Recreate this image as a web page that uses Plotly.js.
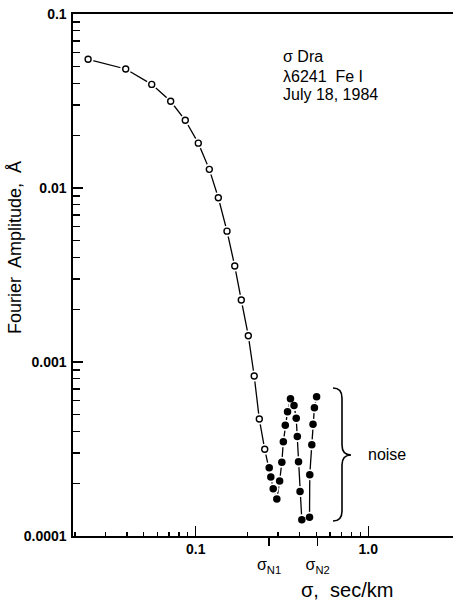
<!DOCTYPE html>
<html>
<head>
<meta charset="utf-8">
<script src="https://cdn.plot.ly/plotly-3.0.1.min.js"></script>
<style>
html,body{margin:0;padding:0;background:#fff;}
#chart{width:453px;height:603px;}
</style>
</head>
<body>
<div id="chart"></div>
<script>
// Spatial frequency sigma (sec/km) and Fourier amplitude (Å)
const openSigma = [0.0238, 0.0393, 0.0556, 0.0716, 0.0870, 0.1035, 0.1199, 0.1352, 0.1518, 0.1683, 0.1837, 0.2017, 0.2182, 0.2336, 0.2511];
const openAmp   = [0.0549, 0.0483, 0.0394, 0.0315, 0.0245, 0.0181, 0.0128, 0.00879, 0.00565, 0.00356, 0.00227, 0.001416, 0.000831, 0.000470, 0.000315];
const noiseSigma = [0.2666, 0.2723, 0.2812, 0.2951, 0.3064, 0.3155, 0.3219, 0.3304, 0.3404, 0.3541, 0.3712, 0.3823, 0.3879, 0.3942, 0.4022, 0.4119, 0.4564, 0.4580, 0.4706, 0.4782, 0.4872, 0.5017];
const noiseAmp   = [0.000247, 0.000218, 0.000187, 0.000163, 0.000207, 0.000265, 0.000348, 0.000433, 0.000518, 0.000615, 0.000562, 0.000475, 0.000373, 0.000267, 0.000180, 0.000124, 0.000128, 0.000225, 0.000335, 0.000439, 0.000546, 0.000632];

const xMajorVals = [0.1, 1.0];
const xMajorText = ['0.1', '1.0'];
const yMajorVals = [0.1, 0.01, 0.001, 0.0001];
const yMajorText = ['0.1', '0.01', '0.001', '0.0001'];
const noiseLimitVals = [0.266, 0.509];
const noiseLimitText = ['σ<sub>N1</sub>', 'σ<sub>N2</sub>'];

const infoLines = ['σ Dra', 'λ6241  Fe I', 'July 18, 1984'];
const xTitle = 'σ,  sec/km';
const yTitle = 'Fourier  Amplitude,  Å';
const noiseLabel = 'noise';

// minor ticks 2..9 per decade
function minors(fromExp, toExp, maxVal) {
  const out = [];
  for (let e = fromExp; e < toExp; e++) {
    for (let m = 2; m <= 9; m++) {
      const v = m * Math.pow(10, e);
      if (v <= maxVal) out.push(v);
    }
  }
  return out;
}
const xMinor = minors(-2, 0, 0.95);
const yMinor = minors(-4, -1, 0.095);

const allX = openSigma.concat(noiseSigma);
const allY = openAmp.concat(noiseAmp);

// geometry of plot area in page pixels
const L = 73, T = 14, W = 380, H = 522;
function P(px, py) { return ((px - L) / W).toFixed(4) + ',' + ((T + H - py) / H).toFixed(4); }

const bracePath = 'M' + P(333, 388) + ' Q' + P(342, 388) + ' ' + P(342, 398) +
  ' L' + P(342, 445) + ' Q' + P(342, 455) + ' ' + P(351, 455) +
  ' Q' + P(342, 455) + ' ' + P(342, 465) + ' L' + P(342, 511) +
  ' Q' + P(342, 521) + ' ' + P(333, 521);

const traces = [
  {x: allX, y: allY, mode: 'lines', line: {color: '#000', width: 1.3}, hoverinfo: 'skip', showlegend: false},
  {x: allX, y: allY, mode: 'markers', marker: {color: '#fff', size: 11, line: {width: 0}}, hoverinfo: 'skip', showlegend: false},
  {x: openSigma, y: openAmp, mode: 'markers', marker: {symbol: 'circle', color: '#fff', size: 6, line: {color: '#000', width: 1.4}}, showlegend: false},
  {x: noiseSigma, y: noiseAmp, mode: 'markers', marker: {symbol: 'circle', color: '#000', size: 7.5, line: {width: 0}}, showlegend: false},
  {x: [0.3], y: [0.001], xaxis: 'x2', mode: 'markers', marker: {opacity: 0}, hoverinfo: 'skip', showlegend: false}
];

const xr = [-1.711, 0.4907];
const FAM = 'Liberation Sans, Arial, sans-serif';
const tickFont = {family: FAM, size: 14, color: '#000', weight: 'bold'};
const txtFont = {family: FAM, size: 16, color: '#000'};

const annotations = [
  {xref: 'paper', yref: 'paper', x: (281 - L) / W, y: (T + H - 56.7) / H, xanchor: 'left', yanchor: 'middle', text: infoLines[0], showarrow: false, font: txtFont},
  {xref: 'paper', yref: 'paper', x: (281 - L) / W, y: (T + H - 76) / H, xanchor: 'left', yanchor: 'middle', text: infoLines[1], showarrow: false, font: txtFont},
  {xref: 'paper', yref: 'paper', x: (281 - L) / W, y: (T + H - 95) / H, xanchor: 'left', yanchor: 'middle', text: infoLines[2], showarrow: false, font: txtFont},
  {xref: 'paper', yref: 'paper', x: (387 - L) / W, y: (T + H - 454) / H, xanchor: 'center', yanchor: 'middle', text: noiseLabel, showarrow: false, font: txtFont},
  {xref: 'paper', yref: 'paper', x: (347 - L) / W, y: (T + H - 590) / H, xanchor: 'center', yanchor: 'middle', text: xTitle, showarrow: false, font: {family: FAM, size: 20, color: '#000'}},
  {xref: 'paper', yref: 'paper', x: (15 - L) / W, y: (T + H - 248) / H, xanchor: 'center', yanchor: 'middle', text: yTitle, textangle: -90, showarrow: false, font: {family: FAM, size: 18, color: '#000'}}
];

const layout = {
  width: 453, height: 603,
  margin: {l: L, r: 0, t: T, b: 603 - T - H, pad: 0},
  paper_bgcolor: '#fff', plot_bgcolor: '#fff',
  showlegend: false,
  xaxis: {
    type: 'log', range: xr, showgrid: false, zeroline: false,
    showline: true, linecolor: '#000', linewidth: 1.6, mirror: true,
    tickmode: 'array', tickvals: xMajorVals, ticktext: xMajorText,
    ticks: 'inside', ticklen: 10, tickwidth: 1.4, tickcolor: '#000',
    tickfont: tickFont,
    minor: {tickmode: 'array', tickvals: xMinor, ticks: 'inside', ticklen: 4, tickwidth: 1.2, tickcolor: '#000', showgrid: false}
  },
  xaxis2: {
    type: 'log', range: xr, overlaying: 'x', anchor: 'y', side: 'bottom',
    showgrid: false, zeroline: false, showline: false,
    tickmode: 'array', tickvals: noiseLimitVals, ticktext: noiseLimitText,
    ticks: 'outside', ticklen: 9, tickwidth: 1.4, tickcolor: '#000',
    ticklabelstandoff: 5,
    tickfont: {family: FAM, size: 16, color: '#000'}
  },
  yaxis: {
    type: 'log', range: [-4, -1], showgrid: false, zeroline: false,
    showline: true, linecolor: '#000', linewidth: 1.6,
    tickmode: 'array', tickvals: yMajorVals, ticktext: yMajorText,
    ticks: 'inside', ticklen: 10, tickwidth: 1.4, tickcolor: '#000',
    ticklabelstandoff: 2,
    tickfont: tickFont,
    minor: {tickmode: 'array', tickvals: yMinor, ticks: 'inside', ticklen: 7, tickwidth: 1.2, tickcolor: '#000', showgrid: false}
  },
  shapes: [
    {type: 'path', xref: 'paper', yref: 'paper', path: bracePath, line: {color: '#000', width: 1.6}}
  ],
  annotations: annotations
};

Plotly.newPlot('chart', traces, layout, {staticPlot: true, displayModeBar: false});
</script>
</body>
</html>
